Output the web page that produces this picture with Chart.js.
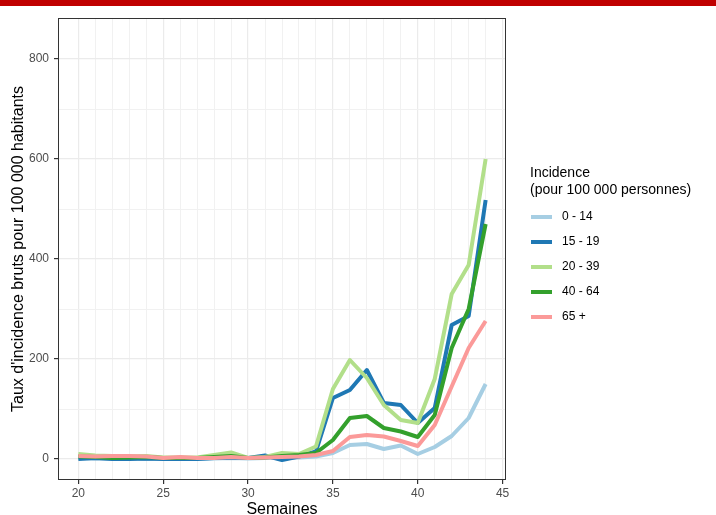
<!DOCTYPE html>
<html lang="fr">
<head>
<meta charset="utf-8">
<title>Taux d'incidence par classe d'âge</title>
<script src="https://cdn.jsdelivr.net/npm/chart.js@4"></script>
<style>
  body { margin: 0; background: #fff; }
  #bandeau { position: absolute; left: 0; top: 0; width: 716px; height: 6px; background: #c00000; }
  #graphique { display: block; }
</style>
</head>
<body>
<div id="bandeau"></div>
<canvas id="graphique" width="716" height="515"></canvas>
<script>
// Semaines (axe x)
const semaines = [20, 21, 22, 23, 24, 25, 26, 27, 28, 29, 30, 31, 32, 33, 34,
                  35, 36, 37, 38, 39, 40, 41, 42, 43, 44];

// Taux d'incidence par classe d'âge (pour 100 000)
const age0_14 = [2, 1, 1, 1, 0, 0, 1, 0, 1, 2, 1, 2, 2, 3, 5,
                 12, 28, 30, 20, 27, 10, 24, 46, 82, 150];
const age15_19 = [0, 2, 0, 0, 1, 0, 0, 0, 2, 3, 2, 7, -2, 5, 15,
                  122, 138, 178, 112, 108, 72, 102, 268, 286, 518];
const age20_39 = [10, 7, 6, 5, 6, 3, 3, 3, 8, 13, 2, 4, 12, 10, 25,
                  140, 198, 162, 108, 78, 72, 160, 330, 388, 600];
const age40_64 = [5, 4, 2, 3, 4, 2, 2, 2, 4, 6, 2, 3, 6, 8, 12,
                  38, 82, 86, 62, 55, 44, 88, 222, 300, 470];
const age65 = [6, 5, 6, 6, 5, 2, 4, 2, 2, 4, 2, 3, 4, 5, 8,
               16, 44, 48, 45, 36, 26, 68, 145, 222, 276];

const categories = ["0 - 14", "15 - 19", "20 - 39", "40 - 64", "65 +"];
const couleurs = ["#a6cee3", "#1f78b4", "#b2df8a", "#33a02c", "#fb9a99"];
const series = [age0_14, age15_19, age20_39, age40_64, age65];

// Graduations
const ticksX = [20, 25, 30, 35, 40, 45];
const ticksY = [0, 200, 400, 600, 800];

const police = "'Liberation Sans', Arial, sans-serif";

// grille : une ligne par semaine, une ligne tous les 100
const grilleX = [];
for (let s = 20; s <= 45; s++) grilleX.push(s);
const grilleY = [0, 100, 200, 300, 400, 500, 600, 700, 800];

const datasets = series.map((valeurs, i) => ({
    label: categories[i],
    data: semaines.map((s, j) => ({ x: s, y: valeurs[j] })),
    borderColor: couleurs[i],
    backgroundColor: couleurs[i],
    borderWidth: 4,
    pointRadius: 0,
    tension: 0,
    borderJoinStyle: 'round',
    order: series.length - i   // 65 + dessiné au-dessus
}));

// Cadre du panneau
const cadre = {
    id: 'cadre',
    afterDatasetsDraw(chart) {
        const a = chart.chartArea;
        const ctx = chart.ctx;
        ctx.save();
        ctx.strokeStyle = '#333333';
        ctx.lineWidth = 1;
        ctx.strokeRect(a.left + 0.5, a.top + 0.5, a.right - a.left - 1, a.bottom - a.top - 1);
        ctx.restore();
    }
};

// Légende à droite, façon ggplot
const legende = {
    id: 'legende',
    afterDraw(chart) {
        const ctx = chart.ctx;
        ctx.save();
        ctx.fillStyle = '#000';
        ctx.font = '14px ' + police;
        ctx.textAlign = 'left';
        ctx.textBaseline = 'alphabetic';
        ctx.fillText('Incidence', 530, 177);
        ctx.fillText('(pour 100 000 personnes)', 530, 194);
        ctx.font = '12px ' + police;
        ctx.textBaseline = 'middle';
        chart.data.datasets.forEach((ds, i) => {
            const y = 217 + i * 25;
            ctx.strokeStyle = ds.borderColor;
            ctx.lineWidth = 4;
            ctx.beginPath();
            ctx.moveTo(531, y);
            ctx.lineTo(552, y);
            ctx.stroke();
            ctx.fillText(ds.label, 562, y);
        });
        ctx.restore();
    }
};

new Chart(document.getElementById('graphique'), {
    type: 'line',
    data: { datasets: datasets },
    plugins: [cadre, legende],
    options: {
        responsive: false,
        animation: false,
        layout: { padding: { top: 18, right: 210, left: 0, bottom: 0 } },
        plugins: {
            legend: { display: false },
            tooltip: { enabled: false }
        },
        scales: {
            x: {
                type: 'linear',
                min: 18.8,
                max: 45.2,
                afterBuildTicks: axe => { axe.ticks = grilleX.map(v => ({ value: v })); },
                afterFit: axe => { axe.height = 35; },
                border: { display: false },
                grid: {
                    color: c => (c.tick && c.tick.value % 5 === 0) ? '#ebebeb' : '#f1f1f1',
                    lineWidth: c => (c.tick && c.tick.value % 5 === 0) ? 1.2 : 1,
                    tickColor: c => (c.tick && ticksX.includes(c.tick.value)) ? '#333333' : 'rgba(0,0,0,0)',
                    tickLength: 4
                },
                ticks: {
                    autoSkip: false,
                    maxRotation: 0,
                    padding: 2,
                    color: '#4d4d4d',
                    font: { family: police, size: 12 },
                    callback: v => ticksX.includes(v) ? String(v) : ''
                },
                title: {
                    display: true,
                    text: 'Semaines',
                    color: '#000',
                    padding: { top: 0, bottom: -3 },
                    font: { family: police, size: 16, lineHeight: 1 }
                }
            },
            y: {
                type: 'linear',
                min: -42,
                max: 882,
                afterBuildTicks: axe => { axe.ticks = grilleY.map(v => ({ value: v })); },
                afterFit: axe => { axe.width = 58; },
                border: { display: false },
                grid: {
                    color: c => (c.tick && c.tick.value % 200 === 0) ? '#ebebeb' : '#f1f1f1',
                    lineWidth: c => (c.tick && c.tick.value % 200 === 0) ? 1.2 : 1,
                    tickColor: c => (c.tick && ticksY.includes(c.tick.value)) ? '#333333' : 'rgba(0,0,0,0)',
                    tickLength: 4
                },
                ticks: {
                    padding: 5,
                    color: '#4d4d4d',
                    font: { family: police, size: 12 },
                    callback: v => ticksY.includes(v) ? String(v) : ''
                },
                title: {
                    display: true,
                    text: "Taux d'incidence bruts pour 100 000 habitants",
                    color: '#000',
                    padding: { top: 9, bottom: 0 },
                    font: { family: police, size: 16, lineHeight: 1.2 }
                }
            }
        }
    }
});
</script>
</body>
</html>
